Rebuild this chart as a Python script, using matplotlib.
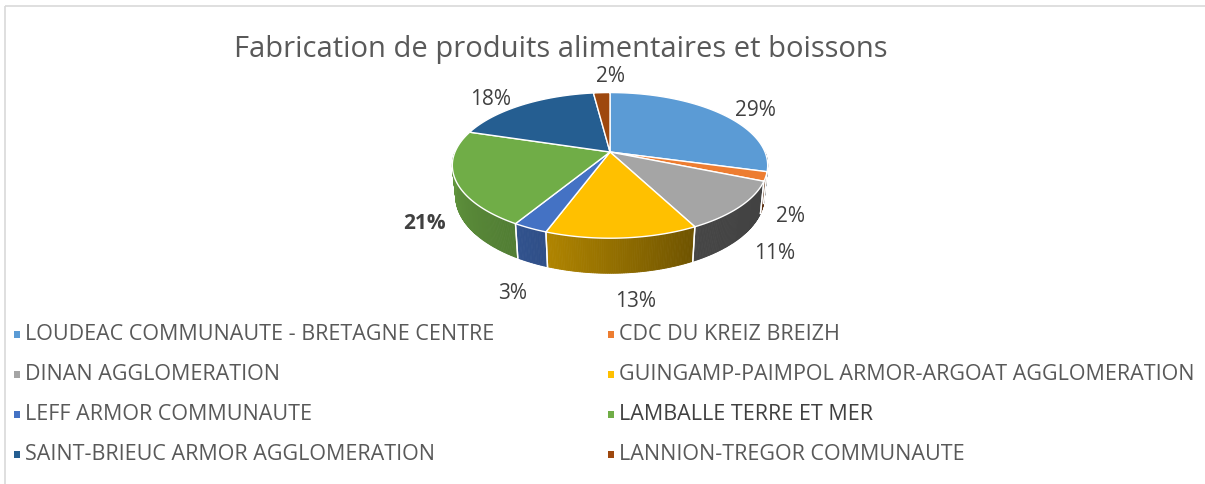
import numpy as np
import matplotlib.pyplot as plt
from matplotlib.patches import Polygon, Rectangle
from matplotlib.colors import to_rgb

title = "Fabrication de produits alimentaires et boissons"
names = ["LOUDEAC COMMUNAUTE - BRETAGNE CENTRE", "CDC DU KREIZ BREIZH",
         "DINAN AGGLOMERATION", "GUINGAMP-PAIMPOL ARMOR-ARGOAT AGGLOMERATION",
         "LEFF ARMOR COMMUNAUTE", "LAMBALLE TERRE ET MER",
         "SAINT-BRIEUC ARMOR AGGLOMERATION", "LANNION-TREGOR COMMUNAUTE"]
values = [29, 2, 11, 13, 3, 21, 18, 2]
colors = ["#5B9BD5", "#ED7D31", "#A5A5A5", "#FFC000",
          "#4472C4", "#70AD47", "#255E91", "#9E480E"]

plt.rcParams['font.family'] = ['Open Sans', 'DejaVu Sans']
TXT = '#595959'

W, H = 1205, 485
fig = plt.figure(figsize=(W / 100, H / 100), dpi=100)
ax = fig.add_axes([0, 0, 1, 1])
ax.set_xlim(0, W)
ax.set_ylim(H, 0)
ax.axis('off')

# chart frame
ax.add_patch(Rectangle((5, 7), W, H, fill=False, ec='#d9d9d9', lw=1.2))

# simple perspective camera for the 3D pie
CX, CY, R = 610, 153, 155
ELEV = np.radians(27)
DIST = 4.85
THICK = 0.226


def proj(t, r=1.0, z=0.0):
    x = r * np.cos(t)
    y = r * np.sin(t)
    se, ce = np.sin(ELEV), np.cos(ELEV)
    s = DIST / (DIST + y * ce - z * se)
    return CX + R * x * s, CY - R * (y * se + z * ce) * s


def shade(t):
    return np.interp(t, [-np.pi, -2.09, -1.88, -1.06, 0.0],
                     [0.88, 0.72, 0.68, 0.42, 0.38])


frac = np.array(values, float) / sum(values)
bounds = np.pi / 2 - 2 * np.pi * np.concatenate([[0], np.cumsum(frac)])

# side walls (front half only)
for i, c in enumerate(colors):
    t0, t1 = bounds[i], bounds[i + 1]
    lo, hi = max(t1, -np.pi), min(t0, 0.0)
    if lo >= hi:
        continue
    ts = np.linspace(hi, lo, max(3, int((hi - lo) / 0.01)))
    base = np.array(to_rgb(c))
    for a, b in zip(ts[:-1], ts[1:]):
        pts = [proj(a), proj(b), proj(b, z=-THICK), proj(a, z=-THICK)]
        col = np.clip(base * shade((a + b) / 2), 0, 1)
        ax.add_patch(Polygon(pts, closed=True, fc=col, ec=col, lw=0.6))
    for t in (hi, lo):
        if -np.pi < t < 0:
            ax.plot(*zip(proj(t), proj(t, z=-THICK)), color='white', lw=1)

# top faces
for i, c in enumerate(colors):
    ts = np.linspace(bounds[i], bounds[i + 1], 80)
    pts = [proj(0, r=0)] + [proj(t) for t in ts]
    ax.add_patch(Polygon(pts, closed=True, fc=c, ec='white', lw=1.0))

# data labels, placed outside each slice
lab_r = [1.2, 1.25, 1.3, 1.25, 1.3, 1.3, 1.22, 1.25]
lab_off = [(15, 3), (-13, 0), (-8, -8), (10, -2), (10, -1), (16, 2), (-16, 3), (10, -5)]
for i, v in enumerate(values):
    tm = (bounds[i] + bounds[i + 1]) / 2
    z = -THICK if np.sin(tm) < 0 else 0.0
    x, y = proj(tm, r=lab_r[i], z=z)
    ax.text(x + lab_off[i][0], y + lab_off[i][1], f"{v}%", ha='center', va='center',
            fontsize=15, color='#404040',
            fontweight='bold' if i == 5 else 'normal')

ax.text(561, 50, title, ha='center', va='center', fontsize=21, color=TXT)

# legend, two columns
col_x = [17, 611]
row_y = [335, 375, 415, 455]
for i, (n, c) in enumerate(zip(names, colors)):
    x, y = col_x[i % 2], row_y[i // 2]
    ax.add_patch(Rectangle((x - 3, y - 3.5), 6, 7, fc=c, ec='none'))
    ax.text(x + 8, y, n, ha='left', va='center', fontsize=15.5,
            color='#404040' if i == 5 else TXT)

fig.savefig('out.png', dpi=100)
